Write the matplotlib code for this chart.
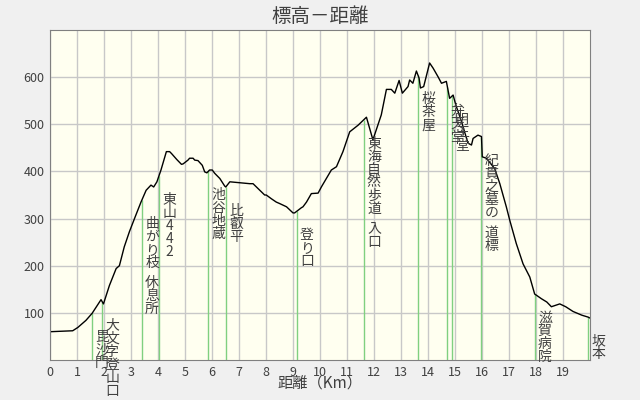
import numpy as np
import matplotlib
matplotlib.use("Agg")
from matplotlib import pyplot as plt

plt.rcParams['font.family'] = ['Noto Sans CJK JP', 'DejaVu Sans']

# 距離 (km) と 標高 (m)
dist = [0.0, 0.84, 1.03, 1.33, 1.56, 1.89, 1.98, 2.2, 2.45, 2.57, 2.75, 2.94,
        3.15, 3.37, 3.56, 3.74, 3.84, 3.96, 4.11, 4.31, 4.43, 4.5, 4.7, 4.87,
        4.93, 5.11, 5.17, 5.3, 5.36, 5.48, 5.56, 5.64, 5.73, 5.81, 5.91, 6.01,
        6.1, 6.29, 6.47, 6.51, 6.66, 7.03, 7.4, 7.52, 7.95, 8.01, 8.2, 8.38,
        8.5, 8.76, 9.0, 9.06, 9.31, 9.37, 9.5, 9.68, 9.93, 10.05, 10.42, 10.61,
        10.85, 11.1, 11.41, 11.72, 11.96, 12.27, 12.46, 12.64, 12.77, 12.93,
        13.05, 13.26, 13.32, 13.44, 13.57, 13.67, 13.72, 13.84, 14.06, 14.19,
        14.37, 14.5, 14.68, 14.8, 14.93, 15.03, 15.24, 15.48, 15.61, 15.67,
        15.85, 15.98, 16.01, 16.16, 16.47, 16.66, 16.9, 17.03, 17.27, 17.52,
        17.77, 17.95, 18.2, 18.4, 18.57, 18.88, 19.1, 19.37, 19.7, 19.93, 20.0]
elev = [60, 62, 69, 84, 99, 128, 119, 158, 194, 200, 240, 272,
        303, 335, 360, 371, 367, 378, 403, 442, 442, 438, 425, 415,
        416, 424, 428, 428, 424, 423, 418, 413, 399, 397, 403, 403,
        396, 385, 369, 367, 378, 376, 374, 374, 350, 350, 342, 335,
        332, 325, 312, 312, 323, 325, 335, 353, 354, 367, 403, 410,
        442, 484, 498, 515, 467, 520, 574, 574, 566, 593,
        566, 580, 594, 587, 613, 598, 577, 580, 630, 619,
        601, 587, 591, 555, 562, 541, 506, 460, 456, 470,
        477, 474, 431, 428, 406, 374, 325, 296, 247, 204,
        176, 140, 130, 123, 113, 119, 113, 103, 95, 91, 89]

# 地点
point_km = [1.56, 1.93, 3.41, 4.04, 5.87, 6.52, 9.15, 11.63, 13.63, 14.72,
            14.89, 15.98, 17.96, 19.94]
point_name = ["毘沙門", "大文字登山口", "曲がり枝 休息所", "東山442", "池谷地蔵",
              "比叡平", "登り口", "東海自然歩道 入口", "桜茶屋", "弁天堂",
              "明王堂", "紀貫之墓の 道標", "滋賀病院", "坂本"]

text_col = '#404040'

fig = plt.figure(figsize=(6.4, 4.0), dpi=100, facecolor='#f0f0f0')
ax = fig.add_axes([50 / 640, 40 / 400, 540 / 640, 330 / 400])
ax.set_facecolor('#fffff0')

ax.set_xlim(0, 20)
ax.set_ylim(0, 700)
ax.set_xticks(range(0, 20))
ax.set_yticks(range(100, 700, 100))
ax.grid(True, color='#c8c8c8', lw=1)
ax.set_axisbelow(True)
ax.tick_params(length=0, labelsize=9, colors=text_col, pad=4)
for s in ax.spines.values():
    s.set_color('#808080')

# 地点の縦線
top = np.interp(point_km, dist, elev)
ax.vlines(point_km, 0, top, color='#80d080', lw=1)

ax.plot(dist, elev, color='black', lw=1)

# 縦書きラベル
for km, y, name in zip(point_km, top, point_name):
    off = -24
    for ch in name:
        if ch == ' ':
            off -= 7
            continue
        ax.annotate(ch, xy=(km, y), xytext=(10, off), textcoords='offset pixels',
                    ha='center', va='center', fontsize=10, color=text_col,
                    annotation_clip=False)
        off -= 13

fig.text(0.5, 1 - 16 / 400, '標高－距離', ha='center', va='center',
         fontsize=14, color=text_col)
fig.text(0.5, 1 - 383 / 400, '距離（Km）', ha='center', va='center',
         fontsize=11, color=text_col)

fig.savefig('out.png', dpi=100, facecolor=fig.get_facecolor())
